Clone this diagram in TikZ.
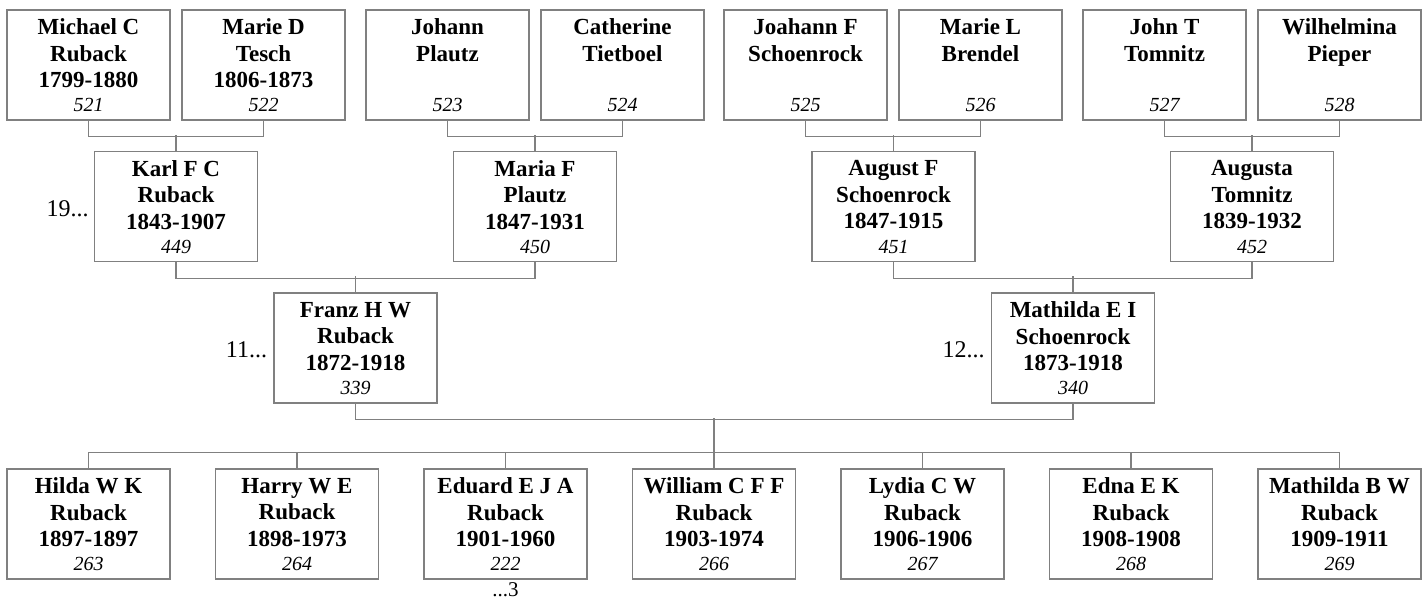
\documentclass[tikz,border=0pt]{standalone}
\usepackage{fontspec}
\setmainfont{Liberation Serif}
\usetikzlibrary{positioning}
\definecolor{linegray}{RGB}{128,128,128}
\tikzset{
  pbox/.style={draw=linegray, line width=1.4pt, minimum width=163pt, minimum height=110pt, inner sep=0pt},
  pname/.style={anchor=north, inner sep=0pt, align=center, yshift=-9.5pt, font=\fontsize{23}{26.5}\selectfont\bfseries},
  pnum/.style={anchor=base, inner sep=0pt, font=\fontsize{20}{24}\selectfont\itshape},
  link/.style={draw=linegray, line width=1.4pt},
  more/.style={inner sep=0pt, font=\fontsize{24}{28}\selectfont}
}
\begin{document}
\begin{tikzpicture}[x=1pt, y=-1pt]
\useasboundingbox (0,0) rectangle (1427,602);

% Great grandparents
\foreach \id/\x/\name in {521/88.5/{Michael C\\Ruback\\1799-1880}, 522/263.5/{Marie D\\Tesch\\1806-1873},
    523/447.5/{Johann\\Plautz}, 524/622.5/{Catherine\\Tietboel},
    525/805.5/{Joahann F\\Schoenrock}, 526/980.5/{Marie L\\Brendel},
    527/1164.5/{John T\\Tomnitz}, 528/1339.5/{Wilhelmina\\Pieper}}
{
    \node[pbox] (p\id) at (\x,65) {};
    \node[pname] at (p\id.north) {\name};
    \node[pnum] at ([yshift=9pt]p\id.south) {\id};
}

% Grandparents
\foreach \id/\x/\name in {449/176/{Karl F C\\Ruback\\1843-1907}, 450/535/{Maria F\\Plautz\\1847-1931},
    451/893.5/{August F\\Schoenrock\\1847-1915}, 452/1252/{Augusta\\Tomnitz\\1839-1932}}
{
    \node[pbox] (p\id) at (\x,206.5) {};
    \node[pname] at (p\id.north) {\name};
    \node[pnum] at ([yshift=9pt]p\id.south) {\id};
}

% Parents
\foreach \id/\x/\name in {339/355.5/{Franz H W\\Ruback\\1872-1918}, 340/1073/{Mathilda E I\\Schoenrock\\1873-1918}}
{
    \node[pbox] (p\id) at (\x,348) {};
    \node[pname] at (p\id.north) {\name};
    \node[pnum] at ([yshift=9pt]p\id.south) {\id};
}

% Children
\foreach \id/\k/\first/\years in {263/0/Hilda W K/1897-1897, 264/1/Harry W E/1898-1973,
    222/2/Eduard E J A/1901-1960, 266/3/William C F F/1903-1974, 267/4/Lydia C W/1906-1906,
    268/5/Edna E K/1908-1908, 269/6/Mathilda B W/1909-1911}
{
    \node[pbox] (p\id) at (88.5+208.5*\k,524) {};
    \node[pname] at (p\id.north) {\first\\Ruback\\\years};
    \node[pnum] at ([yshift=9pt]p\id.south) {\id};
}

% Couples and their child
\foreach \a/\b/\c in {521/522/449, 523/524/450, 525/526/451, 527/528/452, 449/450/339, 451/452/340}
{
    \draw[link] (p\a.south) -- ++(0,16) -| (p\b.south);
    \draw[link] (p\c.north) -- ++(0,-16);
}
\draw[link] (p339.south) -- ++(0,16) -| (p340.south);
\draw[link] (p266.north) -- ++(0,-50);
\draw[link] (p263.north) -- ++(0,-16) -| (p269.north);
\foreach \c in {264,222,267,268}
    \draw[link] (p\c.north) -- ++(0,-16);

% Continuation marks
\node[more, left=5pt of p449, yshift=-2pt] {19...};
\node[more, left=6pt of p339, yshift=-2pt] {11...};
\node[more, left=6pt of p340, yshift=-2pt] {12...};
\node[more, below=3pt of p222, font=\fontsize{21}{24}\selectfont] {...3};
\end{tikzpicture}
\end{document}
